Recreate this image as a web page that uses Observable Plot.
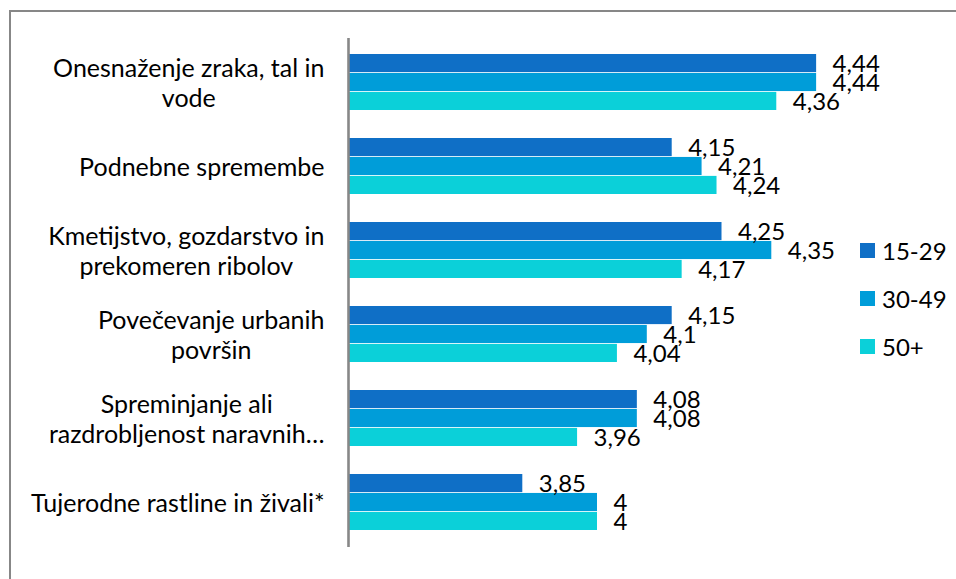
<!DOCTYPE html>
<html>
<head>
<meta charset="utf-8">
<script src="https://cdn.jsdelivr.net/npm/d3@7"></script>
<script src="https://cdn.jsdelivr.net/npm/@observablehq/plot@0.6"></script>
<style>
  html, body { margin: 0; padding: 0; background: #fff; }
  #wrap { position: relative; width: 956px; height: 579px; overflow: hidden; font-family: Lato, "Open Sans", sans-serif; }
  #frame { position: absolute; left: 9px; top: 10px; width: 1000px; height: 1000px; border-top: 2px solid #878787; border-left: 2px solid #878787; box-sizing: border-box; }
  #chart { position: absolute; left: 0; top: 0; }
  #legend { position: absolute; left: 860px; top: 226px; font-size: 24px; color: #000; }
  .item { display: flex; align-items: center; height: 48px; }
  .sw { width: 15px; height: 15px; margin-right: 7px; }
</style>
</head>
<body>
<div id="wrap">
  <div id="frame"></div>
  <div id="chart"></div>
  <div id="legend"></div>
</div>
<script>
const categories = [
  "Onesnaženje zraka, tal in\nvode",
  "Podnebne spremembe",
  "Kmetijstvo, gozdarstvo in\nprekomeren ribolov",
  "Povečevanje urbanih\npovršin",
  "Spreminjanje ali\nrazdrobljenost naravnih…",
  "Tujerodne rastline in živali*"
];
const seriesNames = ["15-29", "30-49", "50+"];
const values1529 = [4.44, 4.15, 4.25, 4.15, 4.08, 3.85];
const values3049 = [4.44, 4.21, 4.35, 4.1, 4.08, 4];
const values50 = [4.36, 4.24, 4.17, 4.04, 3.96, 4];
const seriesColors = ["#0F6FC6", "#009DD9", "#0BD0D9"];
const xDomain = [3.5, 4.5];

const seriesValues = [values1529, values3049, values50];
const labelSize = 25;
const valueSize = 24;
const fontFamily = "Lato, 'Open Sans', sans-serif";

const W = 956, H = 579;
const marginTop = 38, marginBottom = 32, marginLeft = 348, marginRight = 110;
const step = (H - marginTop - marginBottom) / categories.length;
const padInner = 0.33;
const bandwidth = step * (1 - padInner);
const barH = bandwidth / 3;

const fmt = v => String(v).replace(".", ",");

// measure widest line of each label
const ctx = document.createElement("canvas").getContext("2d");
ctx.font = `${labelSize}px ${fontFamily}`;
const widest = s => Math.max(...s.split("\n").map(l => ctx.measureText(l).width));

const marks = [];
seriesValues.forEach((vals, i) => {
  const data = categories.map((c, j) => ({cat: c, v: vals[j]}));
  marks.push(Plot.barX(data, {
    x1: xDomain[0], x2: "v", y: "cat",
    fill: seriesColors[i],
    insetTop: barH * i, insetBottom: barH * (2 - i)
  }));
});
seriesValues.forEach((vals, i) => {
  const data = categories.map((c, j) => ({cat: c, v: vals[j]}));
  marks.push(Plot.text(data, {
    x: "v", y: "cat", text: d => fmt(d.v),
    dx: 16, dy: barH * (i - 1) + 1,
    textAnchor: "start", lineAnchor: "middle",
    fill: "#000", fontSize: valueSize
  }));
});
categories.forEach(c => {
  const w = widest(c);
  marks.push(Plot.text([c], {
    y: d => d, text: d => d, frameAnchor: "left",
    dx: -(24 + w / 2), textAnchor: "middle", lineAnchor: "middle",
    lineHeight: 1.2, fill: "#000", fontSize: labelSize
  }));
});
marks.push(Plot.ruleX([xDomain[0]], {stroke: "#878787", strokeWidth: 2.6}));

const chart = Plot.plot({
  width: W, height: H,
  marginTop, marginBottom, marginLeft, marginRight,
  style: {fontFamily, background: "transparent"},
  x: {domain: xDomain, axis: null},
  y: {domain: categories, axis: null, paddingInner: padInner, paddingOuter: padInner / 2},
  marks
});
document.getElementById("chart").appendChild(chart);

const legend = document.getElementById("legend");
seriesNames.forEach((n, i) => {
  const item = document.createElement("div");
  item.className = "item";
  const sw = document.createElement("span");
  sw.className = "sw";
  sw.style.background = seriesColors[i];
  const t = document.createElement("span");
  t.textContent = n;
  item.appendChild(sw); item.appendChild(t);
  legend.appendChild(item);
});
</script>
</body>
</html>
